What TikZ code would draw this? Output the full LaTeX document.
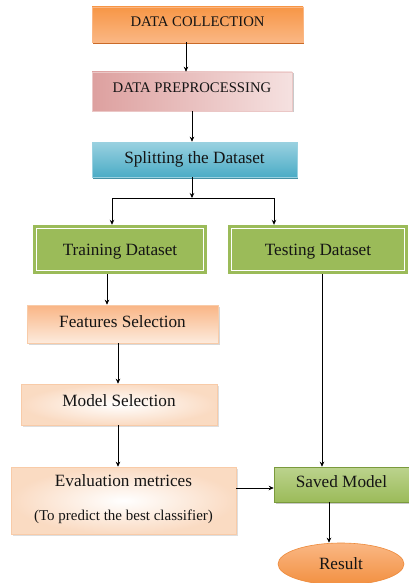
\documentclass[tikz,border=0pt]{standalone}
\usepackage{fontspec}
\setmainfont{Liberation Serif}
\usetikzlibrary{shadows,shapes.geometric,arrows.meta,calc}
\definecolor{orA}{HTML}{F79646}
\definecolor{orL}{HTML}{FAB784}
\definecolor{orD}{HTML}{C55A11}
\definecolor{pkA}{HTML}{DDA09F}
\definecolor{pkL}{HTML}{F5E1E0}
\definecolor{blL}{HTML}{9AD1E0}
\definecolor{blA}{HTML}{4BACC6}
\definecolor{blD}{HTML}{31859C}
\definecolor{grA}{HTML}{9BBB59}
\definecolor{grL}{HTML}{BCD38E}
\definecolor{grD}{HTML}{7A9A3C}
\definecolor{pcA}{HTML}{F9B585}
\definecolor{pcL}{HTML}{FDEBDD}
\definecolor{pcB}{HTML}{F8CBA8}
\definecolor{txt}{HTML}{141414}
\tikzset{
  base/.style={rectangle, inner sep=0pt, text=txt},
  capsfont/.style={font=\fontsize{14.7}{17}\selectfont},
  lowfont/.style={font=\fontsize{17.2}{20}\selectfont},
  dcbox/.style={base, capsfont, text height=10pt, text depth=6pt, top color=orA, bottom color=orL, draw=orL, line width=0.6pt,
     drop shadow={shadow xshift=1pt, shadow yshift=-2pt, fill=orD, opacity=0.9}},
  dpbox/.style={base, capsfont, text height=10pt, text depth=8pt, left color=pkA, right color=pkL, draw=pkL!60!pkA, line width=0.6pt,
     drop shadow={shadow xshift=1.5pt, shadow yshift=-1.5pt, fill=black!35, opacity=0.6}},
  spbox/.style={base, lowfont, top color=blL, bottom color=blA, draw=blL, line width=0.6pt,
     drop shadow={shadow xshift=1pt, shadow yshift=-2pt, fill=blD, opacity=0.9}},
  grbox/.style={base, lowfont, text height=16pt, text depth=4pt, fill=grA},
  pcbox/.style={base, lowfont, text height=12pt, text depth=6pt, top color=pcA, bottom color=pcL, draw=pcB, line width=0.6pt,
     drop shadow={shadow xshift=1.5pt, shadow yshift=-1.5pt, fill=black!30, opacity=0.5}},
  ltbox/.style={base, lowfont, inner color=white, outer color=pcB!70, draw=pcB, line width=0.6pt,
     drop shadow={shadow xshift=1.5pt, shadow yshift=-1.5pt, fill=black!25, opacity=0.5}},
  smbox/.style={base, lowfont, text height=12pt, text depth=6pt, top color=grL, bottom color=grA, draw=grD, line width=0.6pt,
     drop shadow={shadow xshift=1.5pt, shadow yshift=-1.5pt, fill=black!35, opacity=0.6}},
  resbox/.style={ellipse, inner sep=0pt, lowfont, text=txt, top color=orL, bottom color=orA!90!orD, draw=orA!80!orD, line width=0.6pt},
  arr/.style={draw=black, line width=0.7pt, -{Stealth[length=5pt,width=4.5pt]}},
  inner/.style={draw=white, line width=1.3pt}
}
\begin{document}
\begin{tikzpicture}[x=1pt,y=-1pt]
\useasboundingbox (0,0) rectangle (409,583);
\fill[white] (0,0) rectangle (409,583);

\node[dcbox, minimum width=211pt, minimum height=35pt] (dc) at (197.5,24.5) {DATA COLLECTION};
\node[dpbox, minimum width=200pt, minimum height=39pt] (dp) at (192,91.5) {DATA PREPROCESSING};
\node[spbox, minimum width=205pt, minimum height=35pt] (sp) at (194.5,159.5) {Splitting the Dataset};
\node[grbox, minimum width=174pt, minimum height=49pt] (tr) at (120,249.5) {Training Dataset};
\node[grbox, minimum width=180pt, minimum height=49pt] (te) at (318,249.5) {Testing Dataset};
\draw[inner] ([xshift=4pt,yshift=-4pt]tr.north west) rectangle ([xshift=-4pt,yshift=4pt]tr.south east);
\draw[inner] ([xshift=4pt,yshift=-4pt]te.north west) rectangle ([xshift=-4pt,yshift=4pt]te.south east);
\node[pcbox, minimum width=191pt, minimum height=38pt] (fs) at (122.5,324) {Features Selection};
\node[ltbox, minimum width=196pt, minimum height=41pt, text height=12pt, text depth=8pt] (ms) at (119,404.5) {Model Selection};
\node[ltbox, minimum width=225pt, minimum height=67pt] (ev) at (123.5,500.5) {};
\node[lowfont, text=txt, inner sep=0pt] (evt1) at (123.5,481) {Evaluation metrices};
\node[font=\fontsize{15}{18}\selectfont, text=txt, inner sep=0pt] (evt2) at (123.5,517) {(To predict the best classifier)};
\node[smbox, minimum width=135pt, minimum height=35pt] (sm) at (341.5,484.5) {Saved Model};
\node[resbox, minimum width=126pt, minimum height=42pt] (res) at (341,564) {Result};

% connectors
\draw[arr] ([xshift=-11.5pt]dc.south) -- ([xshift=-11.5pt]dc.south |- dp.north);
\draw[arr] (dp.south) -- (dp.south |- sp.north);
\coordinate (j) at (192,198);
\draw[arr] (sp.south -| j) -- (j);
\draw[arr] (j) -| ([xshift=-8pt]tr.north);
\draw[arr] (j) -| ([xshift=-44pt]te.north);
\draw[arr] ([xshift=-13pt]tr.south) -- ([xshift=-13pt]tr.south |- fs.north);
\draw[arr] ([xshift=-4.5pt]fs.south) -- ([xshift=-4.5pt]fs.south |- ms.north);
\draw[arr] ([xshift=-1pt]ms.south) -- ([xshift=-1pt]ms.south |- ev.north);
\draw[arr] ([xshift=4pt]te.south) -- ([xshift=4pt]te.south |- sm.north);
\draw[arr] ([yshift=12.5pt]ev.east) -- ([yshift=12.5pt]ev.east -| sm.west);
\draw[arr] ([xshift=-12.5pt]sm.south) -- ([xshift=-12.5pt]sm.south |- res.north);
\end{tikzpicture}
\end{document}
